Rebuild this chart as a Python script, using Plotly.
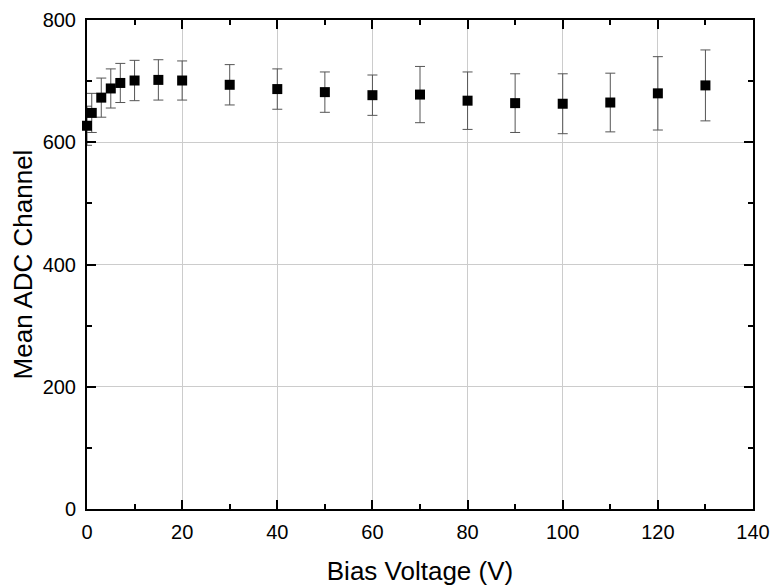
import plotly.graph_objects as go

bias_voltage = [0, 1, 3, 5, 7, 10, 15, 20, 30, 40, 50, 60, 70, 80, 90, 100, 110, 120, 130]
mean_adc = [627, 648, 673, 688, 697, 701, 702, 701, 694, 687, 682, 677, 678, 668, 664, 663, 665, 680, 693]
adc_error = [32, 32, 32, 32, 32, 33, 33, 32, 33, 33, 33, 33, 46, 47, 48, 49, 48, 60, 58]

fig = go.Figure()
fig.add_trace(go.Scatter(
    x=bias_voltage, y=mean_adc, mode="markers",
    marker=dict(symbol="square", size=10, color="black"),
    error_y=dict(type="data", array=adc_error, visible=True,
                 color="#555555", thickness=1, width=5),
    cliponaxis=False,
))

font_family = "Liberation Sans, Arial, sans-serif"
axis_common = dict(
    showline=True, linecolor="black", linewidth=2, mirror="ticks",
    ticks="inside", ticklen=9, tickwidth=2, tickcolor="black",
    showgrid=True, gridcolor="#cccccc", gridwidth=1, zeroline=False,
    tickfont=dict(family=font_family, size=20, color="black"),
    automargin=False, ticklabeloverflow="allow",
)

fig.update_xaxes(
    range=[0, 140], dtick=20, tick0=0, ticklabelstandoff=4,
    minor=dict(dtick=10, ticks="inside", ticklen=5, tickwidth=2, tickcolor="black", showgrid=False),
    title=dict(text="Bias Voltage (V)", font=dict(family=font_family, size=26, color="black"), standoff=20),
    **axis_common,
)
fig.update_yaxes(
    range=[0, 800], dtick=200, tick0=0, ticklabelstandoff=5,
    minor=dict(dtick=100, ticks="inside", ticklen=5, tickwidth=2, tickcolor="black", showgrid=False),
    title=dict(text="Mean ADC Channel", font=dict(family=font_family, size=26, color="black"), standoff=3),
    **axis_common,
)

fig.update_layout(
    width=773, height=587,
    margin=dict(l=87, r=20, t=20, b=78),
    paper_bgcolor="white", plot_bgcolor="white",
    showlegend=False,
)

fig.write_html(
    "out.html",
    config={"displayModeBar": False},
    post_script="document.body.style.margin='0';document.body.style.overflow='hidden';",
)
